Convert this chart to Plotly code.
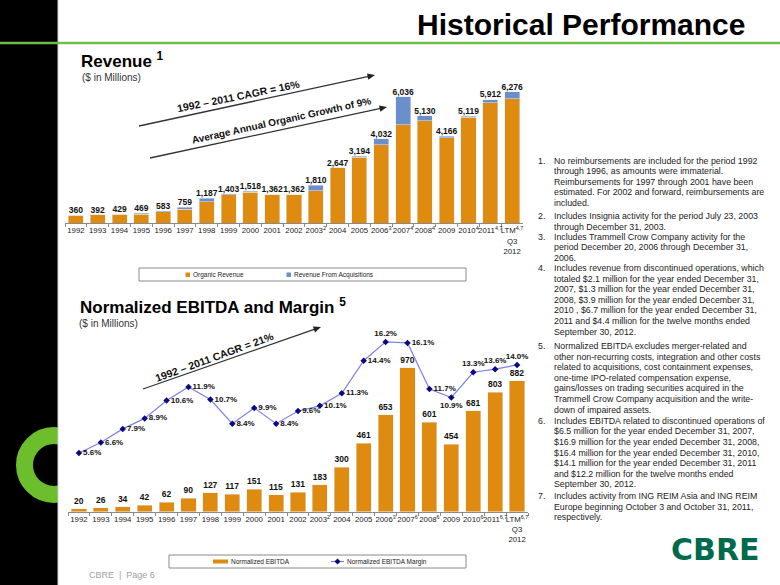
import math
import plotly.graph_objects as go

W, H = 780, 585
def px(x): return x / W
def py(y): return 1 - y / H

years = ["1992", "1993", "1994", "1995", "1996", "1997", "1998", "1999", "2000", "2001",
         "2002", "2003", "2004", "2005", "2006", "2007", "2008", "2009", "2010", "2011", "LTM"]
rev_ticks = ["1992", "1993", "1994", "1995", "1996", "1997", "1998", "1999", "2000", "2001",
             "2002", "2003<sup>2</sup>", "2004", "2005", "2006<sup>3</sup>", "2007<sup>4</sup>",
             "2008<sup>4</sup>", "2009", "2010<sup>4</sup>", "2011<sup>4,7</sup>", "LTM<sup>4,7</sup><br>Q3<br>2012"]
ebitda_ticks = ["1992", "1993", "1994", "1995", "1996", "1997", "1998", "1999", "2000", "2001",
                "2002", "2003<sup>2</sup>", "2004", "2005", "2006<sup>3</sup>", "2007<sup>6</sup>",
                "2008<sup>6</sup>", "2009", "2010<sup>6</sup>", "2011<sup>6,7</sup>", "LTM<sup>6,7</sup><br>Q3<br>2012"]

revenue_total = [360, 392, 429, 469, 583, 759, 1187, 1403, 1518, 1362, 1362, 1810, 2647, 3194,
                 4032, 6036, 5130, 4166, 5119, 5912, 6276]
revenue_acq = [0, 0, 0, 40, 40, 90, 180, 45, 45, 0, 0, 255, 0, 45, 290, 1340, 240, 80, 60, 160, 320]
revenue_organic = [t - a for t, a in zip(revenue_total, revenue_acq)]

ebitda = [20, 26, 34, 42, 62, 90, 127, 117, 151, 115, 131, 183, 300, 461, 653, 970, 601, 454, 681, 803, 882]
margin = [5.6, 6.6, 7.9, 8.9, 10.6, 11.9, 10.7, 8.4, 9.9, 8.4, 9.6, 10.1, 11.3, 14.4, 16.2, 16.1,
          11.7, 10.9, 13.3, 13.6, 14.0]
margin_pos = ["middle right"] * 14 + ["top center", "middle right", "middle right", "bottom center",
                                      "top center", "top center", "top center"]

footnotes = [
    ["No reimbursements are included for the period 1992",
     "through 1996, as amounts were immaterial.",
     "Reimbursements for 1997 through 2001 have been",
     "estimated. For 2002 and forward, reimbursements are",
     "included."],
    ["Includes Insignia activity for the period July 23, 2003",
     "through December 31, 2003."],
    ["Includes Trammell Crow Company activity for the",
     "period December 20, 2006 through December 31,",
     "2006."],
    ["Includes revenue from discontinued operations, which",
     "totaled $2.1 million for the year ended December 31,",
     "2007, $1.3 million for the year ended December 31,",
     "2008, $3.9 million for the year ended December 31,",
     "2010 , $6.7 million for the year ended December 31,",
     "2011 and $4.4 million for the twelve months ended",
     "September 30, 2012."],
    ["Normalized EBITDA excludes merger-related and",
     "other non-recurring costs, integration and other costs",
     "related to acquisitions, cost containment expenses,",
     "one-time IPO-related compensation expense,",
     "gains/losses on trading securities acquired in the",
     "Trammell Crow Company acquisition and the write-",
     "down of impaired assets."],
    ["Includes EBITDA related to discontinued operations of",
     "$6.5 million for the year ended December 31, 2007,",
     "$16.9 million for the year ended December 31, 2008,",
     "$16.4 million for the year ended December 31, 2010,",
     "$14.1 million for the year ended December 31, 2011",
     "and $12.2 million for the twelve months ended",
     "September 30, 2012."],
    ["Includes activity from ING REIM Asia and ING REIM",
     "Europe beginning October 3 and October 31, 2011,",
     "respectively."],
]

FONT = "Arial, 'Liberation Sans', Helvetica, sans-serif"
ORANGE = "#DF8B10"
BLUE = "#6A8FCB"
LINEC = "#7F82E6"
NAVY = "#0A0A80"

fig = go.Figure()

# ---- Revenue chart ----
fig.add_trace(go.Bar(x=years, y=revenue_organic, name="Organic Revenue", marker_color=ORANGE,
                     xaxis="x", yaxis="y", showlegend=False))
fig.add_trace(go.Bar(x=years, y=revenue_acq, name="Revenue From Acquisitions", marker_color=BLUE,
                     xaxis="x", yaxis="y", showlegend=False))
fig.add_trace(go.Scatter(x=years, y=revenue_total, mode="text",
                         text=[f"{v:,}" for v in revenue_total], texttemplate="<b>%{text}</b>",
                         textposition="top center", textfont=dict(size=8.5, color="#111", family=FONT),
                         showlegend=False, cliponaxis=False, xaxis="x", yaxis="y", hoverinfo="skip"))

# ---- EBITDA chart ----
fig.add_trace(go.Bar(x=years, y=ebitda, name="Normalized EBITDA", marker_color=ORANGE,
                     text=[f"<b>{v}</b>" for v in ebitda], textposition="outside",
                     textfont=dict(size=8.5, color="#111", family=FONT), cliponaxis=False,
                     xaxis="x2", yaxis="y2", showlegend=False))
fig.add_trace(go.Scatter(x=years, y=margin, name="Normalized EBITDA Margin", mode="lines+markers+text",
                         line=dict(color=LINEC, width=1.2),
                         marker=dict(symbol="diamond", size=5, color=NAVY),
                         text=[f"<b>{v:.1f}%</b>" for v in margin], textposition=margin_pos,
                         textfont=dict(size=8, color="#111", family=FONT), cliponaxis=False,
                         xaxis="x2", yaxis="y3", showlegend=False))

axis_common = dict(type="category", showline=True, linecolor="#8a8a8a", linewidth=1,
                   ticks="outside", tickson="boundaries", ticklen=3, tickcolor="#8a8a8a",
                   tickangle=0, range=[-0.5, 20.5], autorange=False,
                   tickfont=dict(size=7.8, color="#222", family=FONT), showgrid=False, zeroline=False)
ycommon = dict(showticklabels=False, showgrid=False, zeroline=False, showline=False, ticks="")

fig.update_layout(
    width=W, height=H, margin=dict(l=0, r=0, t=0, b=0),
    paper_bgcolor="white", plot_bgcolor="rgba(0,0,0,0)",
    font=dict(family=FONT, color="#222"),
    barmode="stack", bargap=0.31, showlegend=False,
    xaxis=dict(domain=[px(65), px(523)], anchor="y", tickmode="array", tickvals=years,
               ticktext=rev_ticks, **axis_common),
    yaxis=dict(domain=[py(223), py(223 - 7000 * 0.02088)], range=[0, 7000], anchor="x", **ycommon),
    xaxis2=dict(domain=[px(68), px(528)], anchor="y2", tickmode="array", tickvals=years,
                ticktext=ebitda_ticks, **axis_common),
    yaxis2=dict(domain=[py(511.7), py(333.5)], range=[0, 1200], anchor="x2", **ycommon),
    yaxis3=dict(domain=[py(511.7), py(333.5)], range=[0, 17.0], anchor="x2", overlaying="y2",
                side="right", **ycommon),
)

shapes = [
    # left black band
    dict(type="rect", xref="paper", yref="paper", x0=0, x1=px(58), y0=0, y1=1,
         fillcolor="black", line_width=0, layer="below"),
    # green ring
    dict(type="circle", xref="paper", yref="paper", x0=px(24.5), x1=px(83.5), y0=py(494.5), y1=py(435.5),
         line=dict(color="#6CBE2D", width=17), fillcolor="rgba(0,0,0,0)", layer="below"),
    dict(type="rect", xref="paper", yref="paper", x0=px(58), x1=px(110), y0=py(520), y1=py(410),
         fillcolor="white", line_width=0, layer="below"),
    dict(type="line", xref="paper", yref="paper", x0=px(58), x1=px(58), y0=0, y1=1,
         line=dict(color="#cfcfcf", width=1), layer="below"),
    # green header rule
    dict(type="line", xref="paper", yref="paper", x0=0, x1=1, y0=py(43), y1=py(43),
         line=dict(color="#6CC04A", width=2.5)),
    # legend boxes
    dict(type="rect", xref="paper", yref="paper", x0=px(139), x1=px(466), y0=py(281), y1=py(268),
         line=dict(color="#8a8a8a", width=1), fillcolor="rgba(0,0,0,0)"),
    dict(type="rect", xref="paper", yref="paper", x0=px(169), x1=px(466), y0=py(568), y1=py(555),
         line=dict(color="#8a8a8a", width=1), fillcolor="rgba(0,0,0,0)"),
    # legend keys
    dict(type="rect", xref="paper", yref="paper", x0=px(185.5), x1=px(190), y0=py(277), y1=py(272.5),
         fillcolor=ORANGE, line_width=0),
    dict(type="rect", xref="paper", yref="paper", x0=px(286.5), x1=px(291), y0=py(277), y1=py(272.5),
         fillcolor=BLUE, line_width=0),
    dict(type="rect", xref="paper", yref="paper", x0=px(213), x1=px(228), y0=py(563.5), y1=py(559.5),
         fillcolor=ORANGE, line_width=0),
    dict(type="line", xref="paper", yref="paper", x0=px(331), x1=px(344), y0=py(561.5), y1=py(561.5),
         line=dict(color=LINEC, width=1.2)),
    dict(type="path", xref="paper", yref="paper",
         path=f"M{px(337.5)},{py(558.5)} L{px(340.5)},{py(561.5)} L{px(337.5)},{py(564.5)} L{px(334.5)},{py(561.5)} Z",
         fillcolor=NAVY, line_width=0),
]

def arrow(x0, y0, x1, y1, L=7.5, hw=3.2):
    dx, dy = x1 - x0, y1 - y0
    d = math.hypot(dx, dy)
    ux, uy = dx / d, dy / d
    nx, ny = -uy, ux
    bx, by = x1 - L * ux, y1 - L * uy
    shapes.append(dict(type="line", xref="paper", yref="paper", x0=px(x0), y0=py(y0), x1=px(bx + ux),
                       y1=py(by + uy), line=dict(color="#333", width=1.3)))
    pts = [(x1, y1), (bx + hw * nx, by + hw * ny), (bx - hw * nx, by - hw * ny)]
    path = "M" + " L".join(f"{px(a)},{py(b)}" for a, b in pts) + " Z"
    shapes.append(dict(type="path", xref="paper", yref="paper", path=path, fillcolor="#222", line_width=0))

arrow(139, 126, 375, 75)
arrow(150, 158, 387, 107)
arrow(143, 389, 321, 327)
fig.update_layout(shapes=shapes)

ann = []
def text(x, y, s, size, color="#111", bold=False, xanchor="left", yanchor="middle", angle=0, family=FONT):
    ann.append(dict(xref="paper", yref="paper", x=px(x), y=py(y), text=f"<b>{s}</b>" if bold else s,
                    showarrow=False, xanchor=xanchor, yanchor=yanchor, textangle=angle,
                    font=dict(size=size, color=color, family=family)))

text(747, 25, "Historical Performance", 30, color="black", bold=True, xanchor="right")
text(79, 60, "Revenue <sup>1</sup>", 17, color="black", bold=True)
text(80, 78, "($ in Millions)", 10, color="#333")
text(78, 306, "Normalized EBITDA and Margin <sup>5</sup>", 17, color="black", bold=True)
text(77, 323, "($ in Millions)", 10, color="#333")

text(238, 96, "1992 – 2011 CAGR = 16%", 10.5, bold=True, xanchor="center", angle=-11.5)
text(281, 121, "Average Annual Organic Growth of 9%", 10, bold=True, xanchor="center", angle=-12.5)
text(214, 357, "1992 – 2011 CAGR = 21%", 10.5, bold=True, xanchor="center", angle=-20)

# legend labels
text(190.5, 274.8, "Organic Revenue", 6.5, color="#222")
text(291.5, 274.8, "Revenue From Acquisitions", 6.5, color="#222")
text(228.5, 561.5, "Normalized EBITDA", 6.5, color="#222")
text(344.5, 561.5, "Normalized EBITDA Margin", 6.5, color="#222")

starts = [160.7, 216, 236.7, 268, 346, 420.7, 496]
for i, (lines, y0) in enumerate(zip(footnotes, starts)):
    text(536, y0, f"{i + 1}.", 8.8, color="#222")
    for j, line in enumerate(lines):
        text(552, y0 + j * 10.6, line, 8.8, color="#222")

text(87, 575, "CBRE  |  Page 6", 9, color="#a0a0a0")
text(761, 549, "CBRE", 30, color="#006A4D", bold=True, xanchor="right",
     family="'DejaVu Sans', Verdana, sans-serif")

fig.update_layout(annotations=ann)
fig.write_html("out.html")
